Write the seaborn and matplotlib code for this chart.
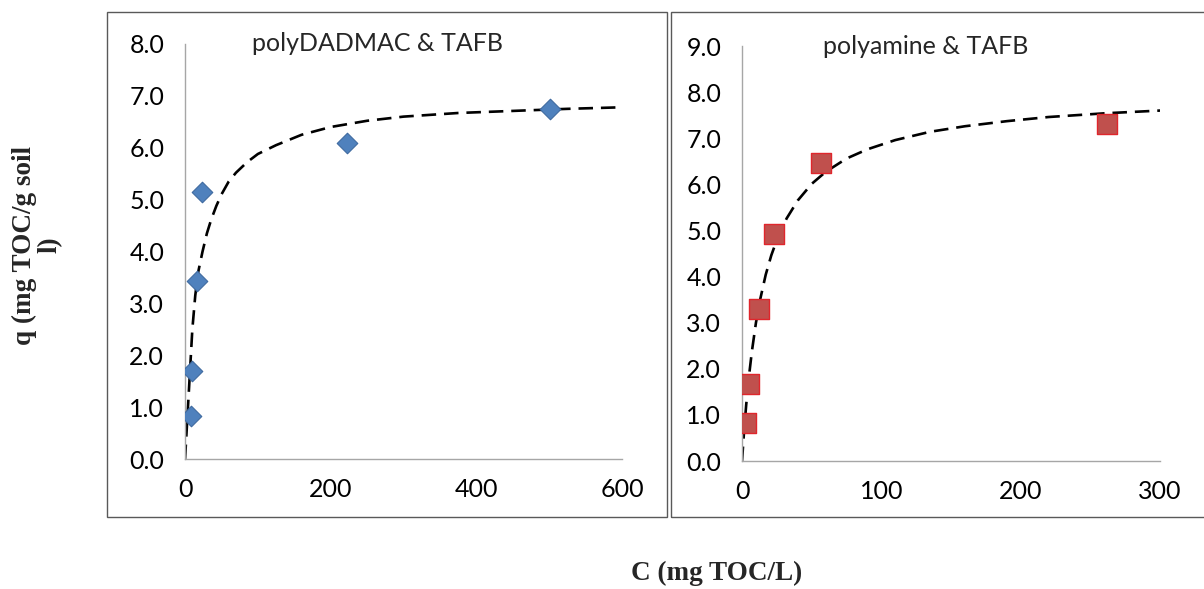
import pandas as pd
import matplotlib.pyplot as plt
import seaborn as sns
from matplotlib.patches import Rectangle

dadmac_c = [7.7, 9.6, 15.9, 22.8, 223, 501]
dadmac_q = [0.83, 1.70, 3.43, 5.15, 6.09, 6.74]
amine_c = [2.9, 5.2, 12.4, 22.7, 57, 262]
amine_q = [0.83, 1.66, 3.30, 4.92, 6.46, 7.31]

# dashed isotherm curves
dadmac_fit_c = [0, 2, 4, 7, 10, 14, 18, 24, 30, 36, 43, 50, 60, 70, 85, 100,
                125, 160, 200, 250, 300, 375, 450, 525, 600]
dadmac_fit_q = [0, 0.5, 1.0, 1.75, 2.5, 3.15, 3.6, 4.0, 4.35, 4.62, 4.88, 5.10,
                5.35, 5.52, 5.72, 5.88, 6.05, 6.25, 6.40, 6.52, 6.60, 6.67,
                6.71, 6.75, 6.78]
amine_fit_c = [0, 1.5, 3, 5, 7, 10, 13, 17, 21, 26, 32, 40, 50, 60, 75, 90,
               110, 135, 160, 190, 220, 260, 300]
amine_fit_q = [0, 0.66, 1.22, 1.84, 2.36, 3.00, 3.50, 4.04, 4.46, 4.88, 5.26,
               5.65, 6.01, 6.27, 6.56, 6.76, 6.96, 7.14, 7.26, 7.37, 7.46,
               7.54, 7.60]

titles = ["polyDADMAC & TAFB", "polyamine & TAFB"]
x_ticks = [[0, 200, 400, 600], [0, 100, 200, 300]]
y_max = [8, 9]

sns.set_style("white")
plt.rcParams['font.family'] = ['Lato', 'DejaVu Sans']

fig = plt.figure(figsize=(12.04, 5.89), dpi=100)

# panel frames
fig.patches.append(Rectangle((0.0889, 0.1222), 0.4651, 0.8574, transform=fig.transFigure,
                             fill=False, edgecolor='#595959', lw=1.0))
fig.patches.append(Rectangle((0.5573, 0.1222), 0.46, 0.8574, transform=fig.transFigure,
                             fill=False, edgecolor='#595959', lw=1.0))

ax1 = fig.add_axes([0.1537, 0.2207, 0.3629, 0.7046])
ax2 = fig.add_axes([0.6163, 0.2173, 0.3472, 0.7046])

df1 = pd.DataFrame({"C": dadmac_c, "q": dadmac_q})
df2 = pd.DataFrame({"C": amine_c, "q": amine_q})
fit1 = pd.DataFrame({"C": dadmac_fit_c, "q": dadmac_fit_q})
fit2 = pd.DataFrame({"C": amine_fit_c, "q": amine_fit_q})

dash = (0, (5.5, 3))
sns.lineplot(data=fit1, x="C", y="q", ax=ax1, color='black', lw=1.9,
             linestyle=dash, estimator=None, sort=False, zorder=2)
sns.scatterplot(data=df1, x="C", y="q", ax=ax1, marker='D', s=110,
                color='#4F81BD', edgecolor='#3F6AA0', linewidth=0.8, zorder=3)

sns.lineplot(data=fit2, x="C", y="q", ax=ax2, color='black', lw=1.9,
             linestyle=dash, estimator=None, sort=False, zorder=2)
sns.scatterplot(data=df2, x="C", y="q", ax=ax2, marker='s', s=200,
                color='#C0504D', edgecolor='#E0262C', linewidth=1.0, zorder=3)

for ax, t, xt, ym in zip([ax1, ax2], titles, x_ticks, y_max):
    ax.set_xlim(0, xt[-1])
    ax.set_ylim(0, ym)
    ax.set_xticks(xt)
    ax.set_yticks(range(0, ym + 1))
    ax.set_yticklabels([f"{v:.1f}" for v in range(0, ym + 1)])
    ax.set_xlabel("")
    ax.set_ylabel("")
    for s in ['top', 'right']:
        ax.spines[s].set_visible(False)
    for s in ['left', 'bottom']:
        ax.spines[s].set_color('#A6A6A6')
        ax.spines[s].set_linewidth(1.0)
    ax.tick_params(axis='both', direction='out', length=6, width=1.0,
                   color='#A6A6A6', labelsize=18, labelcolor='black')
    ax.tick_params(axis='y', pad=9)
    ax.tick_params(axis='x', pad=8)
    ax.patch.set_alpha(0)
    ax.text(0.44, 1.0, t, transform=ax.transAxes, ha='center', va='center',
            fontsize=18)

fig.text(0.031, 0.584, "q (mg TOC/g soil\nl)", rotation=90, ha='center', va='center',
         multialignment='center', family='Liberation Serif', fontweight='bold',
         fontsize=19.5, linespacing=1.0)
fig.text(0.5955, 0.027, "C (mg TOC/L)", ha='center', va='center',
         family='Liberation Serif', fontweight='bold', fontsize=19.5)

fig.savefig("out.png", dpi=100)
